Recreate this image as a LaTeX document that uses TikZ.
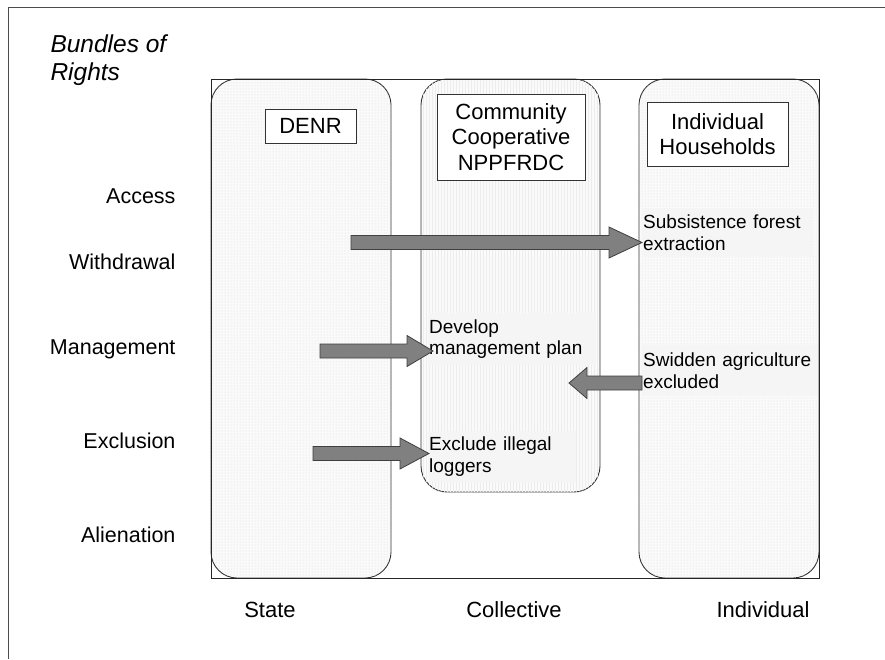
\documentclass[tikz,border=0pt]{standalone}
\usepackage{fontspec}
\setmainfont{Liberation Sans}
\usetikzlibrary{patterns,calc}

\tikzset{
  rowlab/.style={anchor=base east, font=\fontsize{21.5}{25}\selectfont},
  collab/.style={anchor=base, font=\fontsize{22}{26}\selectfont},
  titlelab/.style={anchor=base west, font=\fontsize{24.5}{28}\selectfont\itshape},
  hdr/.style={draw=black!80, fill=white, line width=0.9pt, align=center, inner sep=0pt,
    font=\fontsize{22}{25.5}\selectfont},
  cell/.style={fill=black!4, anchor=north west, align=left, inner xsep=1pt, inner ysep=0pt,
    font=\fontsize{19}{21.5}\selectfont},
  colbox/.style={draw=black!80, line width=0.9pt, rounded corners=26pt},
  blockfill/.style={fill=black!50, draw=black!75, line width=0.8pt, line join=miter}
}

% block arrow: head length, tail, tip
\newcommand{\blockarrow}[3]{%
  \coordinate (ah) at ($(#3)!#1!(#2)$);
  \filldraw[blockfill] ($(#2)!7pt!90:(#3)$) -- ($(ah)!7pt!90:(#3)$) -- ($(ah)!15.5pt!90:(#3)$)
    -- (#3) -- ($(ah)!15.5pt!-90:(#3)$) -- ($(ah)!7pt!-90:(#3)$) -- ($(#2)!7pt!-90:(#3)$) -- cycle;
}

\begin{document}
\begin{tikzpicture}[x=1pt, y=-1pt]
  \useasboundingbox (0,0) rectangle (885,659);

  % outer frame
  \draw[black!70, line width=0.9pt] (885,7) -- (8,7) -- (8,659);

  \node[titlelab] (title1) at (47,52) {Bundles of};
  \node[titlelab] (title2) at (47,80) {Rights};

  % columns
  \path[colbox, fill=black!2, postaction={pattern=dots, pattern color=black!15}]
    (211,79) rectangle (391,578);
  \path[colbox, fill=black!2, postaction={pattern=vertical lines, pattern color=black!7}]
    (421,79) rectangle (600,492);
  \path[colbox, fill=black!2, postaction={pattern=dots, pattern color=black!15}]
    (639,79) rectangle (819,578);
  \draw[black!85, line width=0.9pt] (211,79) rectangle (819,578);

  % headers
  \node[hdr, minimum width=91pt, minimum height=34pt] (denr) at (310.5,126) {DENR};
  \node[hdr, minimum width=148pt, minimum height=86pt] (coop) at (511,137)
    {Community\\Cooperative\\NPPFRDC};
  \node[hdr, minimum width=141pt, minimum height=64pt] (hh) at (717.5,134)
    {Individual\\Households};

  % rights
  \node[rowlab] (access) at (179,203) {Access};
  \node[rowlab] (withdrawal) at (179,269) {Withdrawal};
  \node[rowlab] (management) at (179,354) {Management};
  \node[rowlab] (exclusion) at (179,448) {Exclusion};
  \node[rowlab] (alienation) at (179,542) {Alienation};

  \node[collab] (state) at (270,617) {State};
  \node[collab] (collective) at (514,617) {Collective};
  \node[collab] (individual) at (763,617) {Individual};

  % cells
  \node[cell, minimum width=171pt, minimum height=49pt, text width=169pt] (subsist) at (642,208)
    {Subsistence forest\\extraction};
  \node[cell, minimum width=168pt, minimum height=52pt, text width=166pt] (plan) at (428,313)
    {Develop\\management plan};
  \node[cell, minimum width=176pt, minimum height=51pt, text width=174pt] (swidden) at (642,345)
    {Swidden agriculture\\excluded};
  \node[cell, minimum width=148pt, minimum height=51pt, text width=146pt] (loggers) at (428,431)
    {Exclude illegal\\loggers};

  % arrows
  \coordinate (wd-tail) at (351,242.5);
  \coordinate (wd-tip) at (subsist.west |- wd-tail);
  \coordinate (mg-tail) at (320,351);
  \coordinate (mg-tip) at (433,351);
  \coordinate (sw-tail) at (swidden.west |- 0,383);
  \coordinate (sw-tip) at (569,383);
  \coordinate (ex-tail) at (313,453.5);
  \coordinate (ex-tip) at (429,453.5);

  \blockarrow{33pt}{wd-tail}{wd-tip}
  \blockarrow{26pt}{mg-tail}{mg-tip}
  \blockarrow{18pt}{sw-tail}{sw-tip}
  \blockarrow{29pt}{ex-tail}{ex-tip}
\end{tikzpicture}
\end{document}
